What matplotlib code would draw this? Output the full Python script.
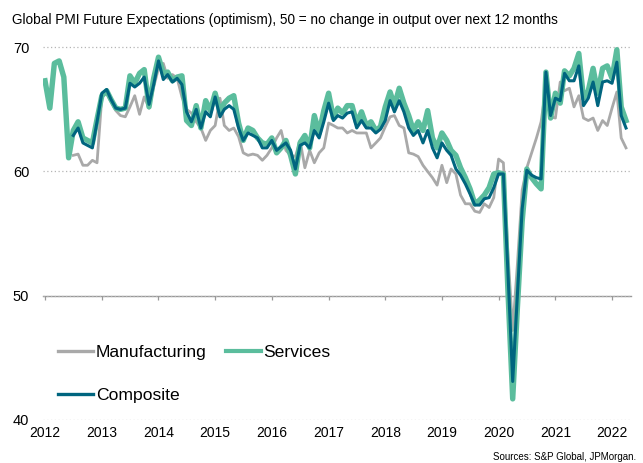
import matplotlib
matplotlib.use("Agg")
import matplotlib.pyplot as plt
import numpy as np
import pandas as pd

plt.rcParams['font.family'] = ['Liberation Sans', 'DejaVu Sans']

dates = pd.date_range("2012-01-01", "2022-04-01", freq="MS")

services = [67.3, 65.1, 68.7, 68.9, 67.6, 61.1, 63.3, 64.0, 62.7, 62.5, 62.3, 64.2,
            66.1, 66.5, 65.8, 65.1, 65.0, 65.1, 67.7, 67.1, 67.9, 68.2, 65.2, 67.5,
            69.2, 67.9, 68.0, 67.3, 67.6, 67.7, 64.1, 63.7, 65.3, 63.5, 65.7, 64.9,
            66.3, 64.8, 65.5, 65.9, 66.1, 63.9, 62.5, 63.5, 63.3, 62.7, 62.3, 62.2,
            62.7, 61.5, 61.9, 62.5, 61.3, 59.8, 62.3, 62.9, 61.9, 64.5, 63.1, 64.9,
            66.3, 64.3, 65.1, 64.7, 65.3, 65.3, 63.9, 64.8, 63.7, 64.0, 63.3, 63.6,
            65.2, 66.4, 65.3, 66.7, 65.5, 64.5, 63.3, 64.0, 63.3, 64.9, 62.7, 61.9,
            63.1, 62.5, 61.7, 61.3, 60.3, 59.5, 58.6, 57.4, 57.7, 58.1, 58.7, 59.8,
            59.9, 59.8, 50.5, 41.7, 49.0, 56.0, 60.2, 59.5, 59.0, 58.6, 68.0, 64.3,
            66.3, 65.5, 68.1, 67.7, 68.3, 69.5, 65.9, 66.5, 68.3, 66.3, 68.3, 68.5,
            67.5, 69.8, 65.2, 64.1]

nan = np.nan
manufacturing = [nan, nan, nan, nan, nan, nan, 61.3, 61.4, 60.5, 60.5, 60.9, 60.7,
                 66.0, 66.3, 65.6, 64.9, 64.5, 64.4, 65.2, 66.1, 64.6, 66.0, 65.1, 66.8,
                 68.3, 68.7, 67.5, 67.8, 67.5, 66.0, 65.0, 64.7, 64.0, 63.5, 62.5, 63.3,
                 63.7, 65.9, 63.7, 63.3, 63.5, 62.8, 61.5, 61.3, 61.4, 61.3, 60.9, 61.3,
                 61.9, 62.7, 63.3, 61.7, 61.3, 61.2, 62.5, 60.3, 61.7, 60.7, 61.5, 61.9,
                 63.9, 63.7, 63.5, 63.5, 63.1, 63.3, 63.1, 63.1, 63.1, 61.9, 62.3, 62.7,
                 63.6, 64.4, 64.5, 63.7, 63.5, 61.5, 61.4, 61.2, 60.5, 60.0, 59.5, 58.9,
                 60.5, 59.1, 60.2, 59.8, 58.1, 57.4, 57.4, 56.8, 56.7, 57.4, 57.1, 57.9,
                 61.0, 60.7, 53.5, 47.2, 52.5, 58.5, 60.3, 61.5, 62.7, 64.0, 66.8, 64.4,
                 64.3, 67.2, 66.5, 66.7, 65.2, 66.1, 64.3, 64.1, 64.3, 63.3, 64.1, 63.7,
                 65.1, 66.4, 62.7, 61.9]

composite = [nan, nan, nan, nan, nan, nan, 62.9, 63.5, 62.3, 62.1, 61.9, 64.0,
             66.3, 66.6, 65.8, 65.1, 65.0, 65.1, 67.1, 66.8, 67.1, 67.6, 65.4, 67.0,
             68.9, 67.4, 67.8, 67.2, 67.5, 67.0, 64.8, 64.0, 65.0, 63.5, 64.8, 64.4,
             66.0, 64.4, 65.0, 65.3, 65.0, 63.5, 62.5, 63.1, 62.9, 62.7, 61.9, 61.9,
             62.5, 61.7, 62.0, 62.3, 61.7, 60.2, 62.1, 62.3, 61.9, 63.3, 62.7, 64.0,
             65.5, 64.1, 64.5, 64.3, 64.7, 64.8, 63.5, 64.1, 63.5, 63.5, 63.1, 63.4,
             64.1, 65.7, 64.8, 65.7, 64.8, 63.5, 62.9, 63.3, 62.3, 63.3, 61.9, 61.1,
             62.3, 61.7, 61.3, 60.2, 59.7, 59.0, 58.2, 57.3, 57.3, 57.8, 57.9, 58.7,
             59.8, 59.8, 52.0, 43.1, 50.0, 57.0, 60.1, 59.7, 59.5, 59.4, 68.0, 64.5,
             65.9, 65.7, 67.9, 67.3, 67.3, 68.5, 65.3, 65.9, 67.2, 65.3, 67.2, 67.3,
             67.1, 68.8, 64.5, 63.5]

years = list(range(2012, 2023))
yticks = [40, 50, 60, 70]

title = "Global PMI Future Expectations (optimism), 50 = no change in output over next 12 months"
source = "Sources: S&P Global, JPMorgan."

c_man = "#a9a9a9"
c_ser = "#5bbd9d"
c_com = "#00657f"

fig = plt.figure(figsize=(6.43, 4.63), dpi=100)
ax = fig.add_axes([0.0669, 0.0929, 0.9144, 0.8185])

l_man, = ax.plot(dates, manufacturing, color=c_man, lw=2.0, label="Manufacturing", zorder=3)
l_ser, = ax.plot(dates, services, color=c_ser, lw=3.9, label="Services", zorder=4)
l_com, = ax.plot(dates, composite, color=c_com, lw=2.2, label="Composite", zorder=5)

ymin, ymax = 40, 70.5
ax.set_ylim(ymin, ymax)
ax.set_xlim(pd.Timestamp("2011-12-19"), pd.Timestamp("2022-05-03"))

tick_dates = [pd.Timestamp(f"{y}-01-01") for y in years]
ax.set_xticks(tick_dates)
ax.set_xticklabels([str(y) for y in years], fontsize=10)
ax.set_yticks(yticks)
ax.set_yticklabels([str(v) for v in yticks], fontsize=10.5)
ax.tick_params(axis='x', length=0, pad=4.5)
ax.tick_params(axis='y', length=0, pad=10)
for s in ax.spines.values():
    s.set_visible(False)
ax.yaxis.grid(True, color="#b5b5b5", lw=0.9, linestyle=(0, (1, 2)))
ax.set_axisbelow(True)

# x axis line crossing at 50
loc = (50 - ymin) / (ymax - ymin)
sec = ax.secondary_xaxis(loc)
sec.set_xticks(tick_dates)
sec.set_xticklabels([])
sec.tick_params(axis='x', direction='out', length=3, color="#999999", width=0.9)
sec.spines['bottom'].set_color("#999999")
sec.spines['bottom'].set_linewidth(1.0)

leg = ax.legend([l_man, l_com, l_ser], ["Manufacturing", "Composite", "Services"],
                loc='upper left', bbox_to_anchor=(0.005, 0.23), ncol=2, frameon=False,
                fontsize=12.6, handlelength=2.0, handletextpad=0.15, columnspacing=1.1,
                labelspacing=1.55, borderaxespad=0.3)
for h in leg.get_lines():
    h.set_linewidth(2.4)
leg.get_lines()[2].set_linewidth(3.0)

fig.text(12 / 643, 1 - 20 / 463, title, fontsize=9.85, va='center', ha='left')
fig.text(636 / 643, 1 - 457 / 463, source, fontsize=7, va='center', ha='right')

fig.savefig("out.png", dpi=100)
